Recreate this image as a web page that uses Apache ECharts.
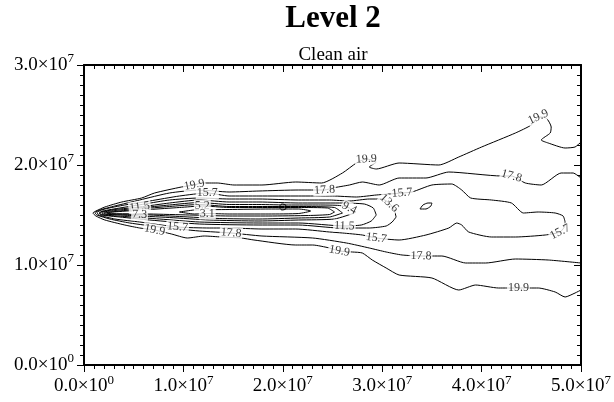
<!DOCTYPE html>
<html>
<head>
<meta charset="utf-8">
<script src="https://cdn.jsdelivr.net/npm/echarts@6/dist/echarts.min.js"></script>
<style>
  html, body { margin: 0; padding: 0; background: #fff; }
  #chart { width: 614px; height: 402px; }
</style>
</head>
<body>
<div id="chart"></div>
<script>
// contour lines, coordinates in units of 1e6 (x, y)
const contour19_9 = [
  [50.0,22.3],[49.4,21.8],[48.4,21.7],[46.7,22.2],[46.0,22.5],[46.9,23.2],[47.0,23.8],[46.5,24.7],
  [45.7,24.8],[45.0,24.0],[43.4,23.2],[40.0,21.8],[37.7,20.8],[35.7,20.0],[31.7,20.2],[29.4,19.6],
  [28.7,19.8],[29.4,20.3],[28.4,20.6],[27.4,20.2],[26.0,19.2],[23.9,18.2],[21.3,18.3],[17.9,18.0],
  [15.1,18.0],[13.4,18.2],[11.8,18.2],[11.1,18.0],[9.8,17.8],[7.1,17.2],[5.8,16.7],[3.8,16.3],
  [2.1,15.8],[1.2,15.4],[0.9,15.2],[1.2,14.9],[2.1,14.5],[4.1,14.0],[5.6,13.7],[7.1,13.5],
  [8.8,13.1],[10.4,12.7],[12.1,12.9],[13.8,12.8],[15.8,12.7],[17.1,12.5],[21.3,12.0],[23.0,12.0],
  [24.7,11.7],[25.7,11.4],[27.0,11.3],[28.0,11.2],[29.0,10.5],[30.4,9.7],[31.7,9.0],[35.0,8.7],
  [37.7,7.5],[39.4,8.0],[41.7,7.7],[43.7,7.7],[45.7,7.7],[47.4,7.3],[48.4,6.8],[49.4,7.2],[50.0,7.5]
];
const contour17_8 = [
  [50.0,18.7],[49.2,19.2],[48.0,19.2],[46.0,18.0],[44.4,18.2],[43.0,18.9],[42.0,18.9],[36.7,19.3],
  [34.4,18.7],[31.7,18.7],[29.7,18.0],[28.0,18.3],[26.7,18.0],[25.0,17.7],[24.2,17.5],[21.6,17.5],
  [17.6,17.4],[14.6,17.3],[11.6,17.5],[8.6,17.2],[5.6,16.5],[3.1,15.9],[1.6,15.5],[1.1,15.25],
  [1.3,15.0],[2.6,14.6],[4.6,14.2],[7.6,13.8],[11.6,13.4],[14.8,13.2],[17.9,12.9],[23.0,12.7],
  [26.4,12.2],[28.7,11.7],[30.4,11.3],[32.0,11.0],[33.9,10.9],[36.0,10.9],[38.4,10.2],[40.4,10.2],
  [43.4,10.6],[46.7,10.5],[50.0,10.2]
];
const contour15_7 = [
  [48.4,14.3],[48.2,14.9],[47.4,15.2],[45.7,15.3],[44.2,15.2],[43.0,16.2],[41.0,16.5],[38.9,16.7],
  [38.0,17.5],[37.0,18.1],[35.0,18.0],[33.0,17.3],[32.0,17.2],[29.4,17.0],[27.4,16.8],[25.0,16.9],
  [21.6,16.9],[17.6,16.9],[14.6,16.9],[12.4,17.2],[9.6,16.9],[6.6,16.4],[4.1,16.0],[2.1,15.6],
  [1.3,15.25],[1.5,15.0],[3.1,14.6],[5.6,14.3],[9.4,13.8],[12.6,13.7],[14.6,13.7],[17.9,13.6],
  [21.3,13.6],[24.7,13.3],[26.0,13.2],[28.0,13.0],[29.4,12.7],[31.7,12.5],[34.4,13.0],[36.7,13.7],
  [37.5,14.2],[38.0,14.0],[38.7,13.3],[41.0,12.8],[43.4,12.8],[46.4,13.0],[47.9,13.3],[48.4,14.0],[48.4,14.3]
];
const contour13_6 = [
  [31.4,14.8],[31.2,15.5],[30.7,16.2],[30.0,16.6],[28.7,16.6],[26.7,16.4],[24.7,16.5],[21.6,16.5],
  [17.6,16.6],[14.6,16.6],[11.6,16.7],[8.6,16.5],[6.1,16.1],[3.6,15.7],[1.9,15.4],[1.5,15.2],
  [1.8,15.0],[3.6,14.8],[6.6,14.5],[11.6,14.1],[17.6,14.0],[21.6,14.0],[25.7,13.7],[28.7,13.7],
  [30.4,13.9],[31.0,14.3],[31.4,14.8]
];
const contour13_6b = [
  [33.8,15.6],[34.1,16.0],[34.6,16.2],[35.0,16.2],[34.9,15.9],[34.4,15.6],[33.8,15.6]
];
const contour11_5 = [
  [29.4,15.0],[29.1,15.7],[28.2,16.1],[25.7,16.2],[21.6,16.2],[17.6,16.3],[14.6,16.3],[11.6,16.5],
  [8.6,16.2],[5.6,15.8],[3.1,15.55],[1.7,15.3],[1.6,15.15],[2.0,15.0],[4.1,14.85],[7.6,14.6],
  [11.6,14.3],[17.6,14.2],[21.6,14.2],[26.2,13.9],[27.9,14.0],[28.9,14.4],[29.4,15.0]
];
const contour9_4 = [
  [27.2,15.2],[26.7,15.7],[25.7,15.95],[23.6,16.0],[20.6,16.0],[17.6,16.05],[14.6,16.05],[11.6,16.25],
  [8.6,16.0],[5.6,15.7],[3.1,15.45],[1.8,15.25],[1.9,15.1],[4.6,14.95],[8.6,14.75],[12.6,14.5],
  [17.6,14.4],[21.6,14.5],[25.2,14.6],[27.2,15.2]
];
const contour7_3 = [
  [26.0,15.2],[25.2,15.75],[21.6,15.85],[17.6,15.85],[14.6,15.85],[11.6,16.05],[8.6,15.85],[5.6,15.6],
  [3.1,15.35],[2.0,15.2],[2.2,15.1],[5.6,15.05],[9.6,14.85],[13.6,14.65],[17.6,14.6],[21.6,14.7],
  [24.7,14.8],[26.0,15.2]
];
const contour5_2 = [
  [25.2,15.3],[24.5,15.7],[21.6,15.75],[17.6,15.75],[14.6,15.75],[11.9,15.9],[9.6,15.75],[6.6,15.55],
  [3.6,15.35],[2.3,15.22],[2.4,15.14],[6.6,15.1],[10.6,15.0],[14.6,14.9],[18.6,14.9],[22.6,14.95],
  [24.7,15.05],[25.2,15.3]
];
const contour3_1 = [
  [9.6,15.3],[11.1,15.5],[14.6,15.55],[18.6,15.6],[21.6,15.6],[22.8,15.4],[21.6,15.15],[18.6,15.1],
  [14.6,15.1],[12.4,15.15],[11.1,15.1],[9.6,15.3]
];
const contour3_1b = [
  [19.6,15.8],[19.9,16.1],[20.3,16.0],[20.3,15.6],[19.9,15.5],[19.6,15.8]
];

// which points of each contour carry the value label
const labels19_9 = [8, 18, 27, 39, 49, 59];
const labels17_8 = [5, 14, 29, 36];
const labels15_7 = [12, 19, 28, 36, 46];
const labels13_6 = [2];
const labels11_5 = [9, 19];
const labels9_4 = [1];
const labels7_3 = [11];
const labels5_2 = [5];
const labels3_1 = [9];

const contours = [
  { level: '19.9', pts: contour19_9, lab: labels19_9 },
  { level: '17.8', pts: contour17_8, lab: labels17_8 },
  { level: '15.7', pts: contour15_7, lab: labels15_7 },
  { level: '13.6', pts: contour13_6, lab: labels13_6 },
  { level: '13.6', pts: contour13_6b, lab: [] },
  { level: '11.5', pts: contour11_5, lab: labels11_5 },
  { level: '9.4', pts: contour9_4, lab: labels9_4 },
  { level: '7.3', pts: contour7_3, lab: labels7_3 },
  { level: '5.2', pts: contour5_2, lab: labels5_2 },
  { level: '3.1', pts: contour3_1, lab: labels3_1 },
  { level: '3.1', pts: contour3_1b, lab: [] }
];

const UNIT = 1e6;
const FONT = '"Liberation Serif", "DejaVu Serif", serif';

function sci(v) {
  if (v === 0) return '{m|0.0×10}{e|0}';
  const e = Math.floor(Math.log10(v) + 1e-9);
  const m = (v / Math.pow(10, e)).toFixed(1);
  return '{m|' + m + '×10}{e|' + e + '}';
}

// exponent raised with bottom padding
const sciRich = {
  m: { fontFamily: FONT, fontSize: 19, color: '#000' },
  e: { fontFamily: FONT, fontSize: 13, color: '#000', padding: [0, 0, 12, 0] }
};

const lineSeries = contours.map(c => ({
  type: 'line',
  data: c.pts.map(p => [p[0] * UNIT, p[1] * UNIT]),
  showSymbol: false,
  symbol: 'none',
  smooth: 0.2,
  lineStyle: { color: '#000', width: 1 },
  silent: true,
  z: 2
}));

const labelData = [];
contours.forEach(c => {
  c.lab.forEach(i => {
    const a = c.pts[Math.max(i - 1, 0)];
    const b = c.pts[Math.min(i + 1, c.pts.length - 1)];
    let ang = Math.atan2((b[1] - a[1]) * 10, (b[0] - a[0]) * 9.98) * 180 / Math.PI;
    if (ang > 90) ang -= 180;
    if (ang < -90) ang += 180;
    labelData.push({
      value: [c.pts[i][0] * UNIT, c.pts[i][1] * UNIT],
      name: c.level,
      label: { rotate: Math.round(ang) }
    });
  });
});

const chart = echarts.init(document.getElementById('chart'));

chart.setOption({
  animation: false,
  backgroundColor: '#fff',
  title: [
    {
      text: 'Level 2', left: 333, top: 3, textAlign: 'center', padding: 0,
      textStyle: { fontFamily: FONT, fontSize: 31, fontWeight: 'bold', color: '#000' }
    },
    {
      text: 'Clean air', left: 333, top: 46, textAlign: 'center', padding: 0,
      textStyle: { fontFamily: FONT, fontSize: 19, fontWeight: 'normal', color: '#000' }
    }
  ],
  grid: { left: 84, right: 31, top: 65, bottom: 37 },
  xAxis: [
    {
      type: 'value', position: 'bottom', min: 0, max: 5e7, interval: 1e7,
      axisLine: { onZero: false, lineStyle: { color: '#000', width: 2 } },
      axisTick: { length: 7, lineStyle: { color: '#000', width: 1 } },
      minorTick: { show: true, splitNumber: 10, length: 4, lineStyle: { color: '#000', width: 1 } },
      splitLine: { show: false },
      axisLabel: { margin: 9, formatter: sci, rich: sciRich }
    },
    {
      type: 'value', position: 'top', min: 0, max: 5e7, interval: 1e7,
      axisLine: { onZero: false, lineStyle: { color: '#000', width: 2 } },
      axisTick: { inside: true, length: 7, lineStyle: { color: '#000', width: 1 } },
      minorTick: { show: true, splitNumber: 10, length: 4, lineStyle: { color: '#000', width: 1 } },
      splitLine: { show: false },
      axisLabel: { show: false }
    }
  ],
  yAxis: [
    {
      type: 'value', position: 'left', min: 0, max: 3e7, interval: 1e7,
      axisLine: { show: true, onZero: false, lineStyle: { color: '#000', width: 2 } },
      axisTick: { show: true, length: 7, lineStyle: { color: '#000', width: 1 } },
      minorTick: { show: true, splitNumber: 10, length: 4, lineStyle: { color: '#000', width: 1 } },
      splitLine: { show: false },
      axisLabel: { margin: 10, formatter: sci, rich: sciRich }
    },
    {
      type: 'value', position: 'right', min: 0, max: 3e7, interval: 1e7,
      axisLine: { show: true, onZero: false, lineStyle: { color: '#000', width: 2 } },
      axisTick: { show: true, inside: true, length: 7, lineStyle: { color: '#000', width: 1 } },
      minorTick: { show: true, splitNumber: 10, length: 4, lineStyle: { color: '#000', width: 1 } },
      splitLine: { show: false },
      axisLabel: { show: false }
    }
  ],
  series: lineSeries.concat([{
    type: 'scatter',
    data: labelData,
    symbolSize: 0,
    silent: true,
    z: 5,
    label: {
      show: true,
      position: 'inside',
      formatter: p => p.name,
      fontFamily: FONT,
      fontSize: 12,
      color: '#000',
      backgroundColor: '#fff',
      padding: [0, 1]
    }
  }])
});
</script>
</body>
</html>
